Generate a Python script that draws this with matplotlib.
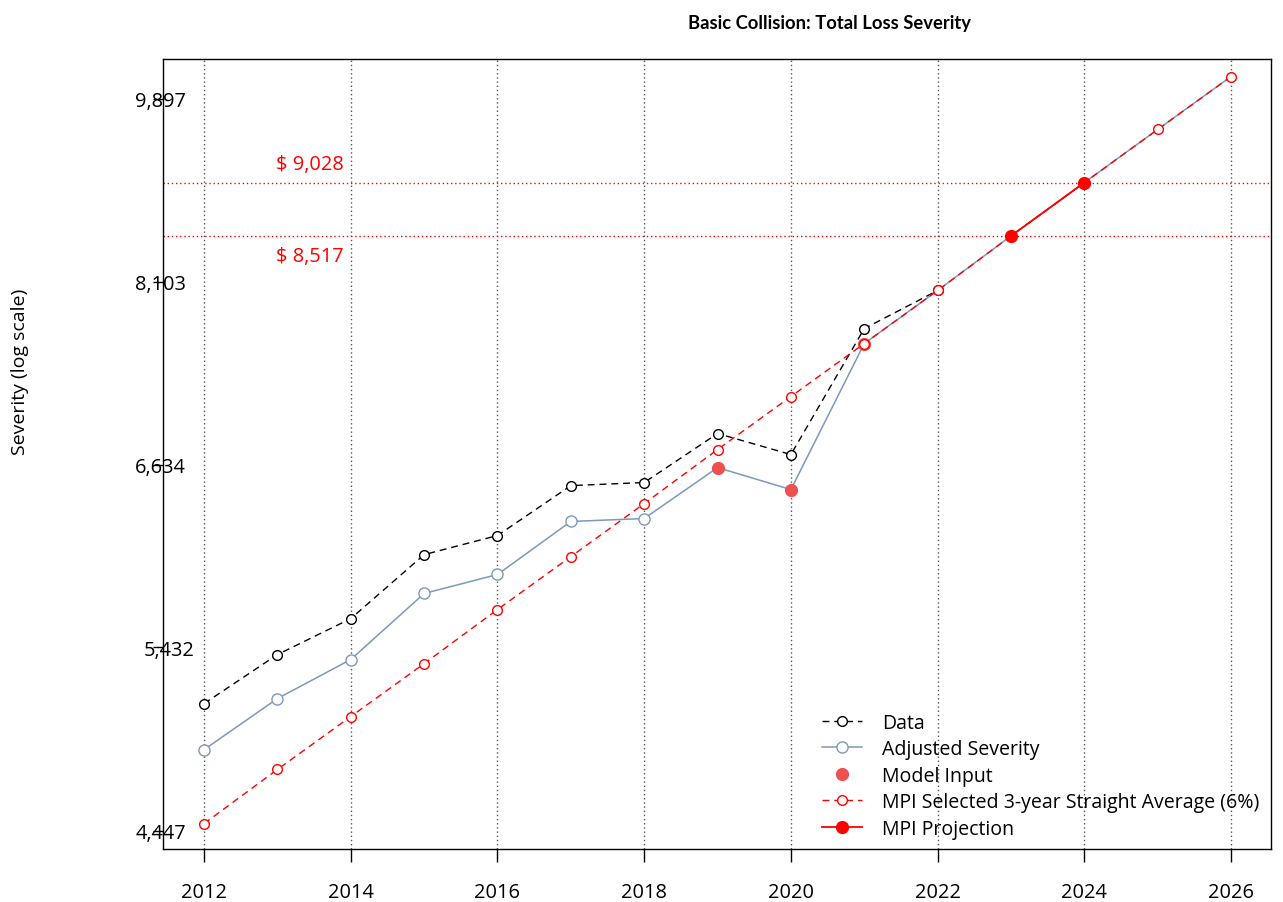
import numpy as np
import matplotlib
matplotlib.use("Agg")
import matplotlib.pyplot as plt
import matplotlib.transforms as mtransforms

plt.rcParams['font.family'] = ['Open Sans', 'DejaVu Sans']

# data
years = [2012, 2013, 2014, 2015, 2016, 2017, 2018, 2019, 2020, 2021, 2022]
data_sev = [5109, 5390, 5606, 6012, 6139, 6483, 6505, 6863, 6707, 7697, 8024]

adj_years = [2012, 2013, 2014, 2015, 2016, 2017, 2018, 2019, 2020, 2021, 2022, 2023, 2024, 2025, 2026]
adj_sev = [4858, 5137, 5361, 5762, 5883, 6234, 6254, 6612, 6455, 7572, 8024, 8517, 9028, 9568, 10138]

model_years = [2019, 2020, 2021]
model_sev = [6612, 6455, 7572]

mpi_years = list(range(2012, 2027))
mpi_sev = [4481, 4754, 5037, 5337, 5662, 5999, 6357, 6744, 7146, 7572, 8024, 8517, 9028, 9568, 10138]

proj_years = [2023, 2024]
proj_sev = [8517, 9028]

ref_levels = [9028, 8517]
ref_labels = ['$ 9,028', '$ 8,517']

ytick_vals = [4447, 5432, 6634, 8103, 9897]
ytick_labels = ['4,447', '5,432', '6,634', '8,103', '9,897']
xtick_vals = [2012, 2014, 2016, 2018, 2020, 2022, 2024, 2026]

fs = 14.4
dash = (0, (5, 3.5))

fig = plt.figure(figsize=(12.83, 9.03), dpi=100)
ax = fig.add_axes([163 / 1283, 1 - 850 / 903, (1271 - 163) / 1283, (850 - 60) / 903])
ax.set_yscale('log')

# grid lines
for x in xtick_vals:
    ax.axvline(x, color='#555555', lw=1, linestyle=(0, (1, 2)), zorder=1)
for v in ref_levels:
    ax.axhline(v, color='red', lw=1, linestyle=(0, (1, 2)), zorder=1)

ax.plot(years, data_sev, color='black', lw=1, linestyle=dash, marker='o',
        mfc='white', mec='black', ms=7, mew=1, label='Data', zorder=3)
ax.plot(adj_years, adj_sev, color='#7F97BC', lw=1.1, marker='o', markevery=list(range(7)),
        mfc='white', mec='#7F97BC', ms=8, mew=1, label='Adjusted Severity', zorder=3)
ax.plot(model_years, model_sev, linestyle='None', marker='o', color='#EE5050', ms=8.5,
        label='Model Input', zorder=4)
ax.plot(mpi_years, mpi_sev, color='red', lw=1, linestyle=dash, marker='o',
        mfc='white', mec='red', ms=7, mew=1,
        label='MPI Selected 3-year Straight Average (6%)', zorder=5)
ax.plot(proj_years, proj_sev, color='red', lw=1.3, marker='o', ms=8.5,
        label='MPI Projection', zorder=6)

# reference labels (pixel positions)
ax.text(310, 903 - 165, ref_labels[0], color='red', fontsize=fs, ha='center', va='center',
        transform=mtransforms.IdentityTransform())
ax.text(310, 903 - 257, ref_labels[1], color='red', fontsize=fs, ha='center', va='center',
        transform=mtransforms.IdentityTransform())

ax.set_xlim(2011.44, 2026.545)
ax.set_ylim(np.exp(8.3798), np.exp(9.2432))
ax.set_xticks(xtick_vals)
ax.set_xticklabels([str(x) for x in xtick_vals], fontsize=fs)
ax.set_yticks(ytick_vals)
ax.set_yticklabels(ytick_labels, fontsize=fs)
ax.yaxis.set_minor_locator(matplotlib.ticker.NullLocator())
ax.tick_params(axis='x', direction='out', length=9.5, width=1, pad=14.5)
ax.tick_params(axis='y', direction='out', length=7, width=1, pad=-23.5)
for sp in ax.spines.values():
    sp.set_linewidth(1)

# odd offset of one label in the reference
lbl = ax.get_yticklabels()[1]
lbl.set_transform(lbl.get_transform() + mtransforms.ScaledTranslation(9 / 100, 0, fig.dpi_scale_trans))

fig.text(829 / 1283, 1 - 23 / 903, 'Basic Collision: Total Loss Severity', fontsize=13.2,
         fontweight='bold', family=['Lato', 'DejaVu Sans'], ha='center', va='center')
fig.text(20 / 1283, 1 - 372 / 903, 'Severity (log scale)', fontsize=14, rotation=90,
         ha='center', va='center')

ax.legend(loc='upper left', bbox_to_anchor=(812 / 1283, 1 - 704 / 903),
          bbox_transform=fig.transFigure, frameon=False, fontsize=14.05, handlelength=2.05,
          handletextpad=1.05, labelspacing=0.33, borderpad=0, numpoints=1)

fig.savefig('out.png', dpi=100)
